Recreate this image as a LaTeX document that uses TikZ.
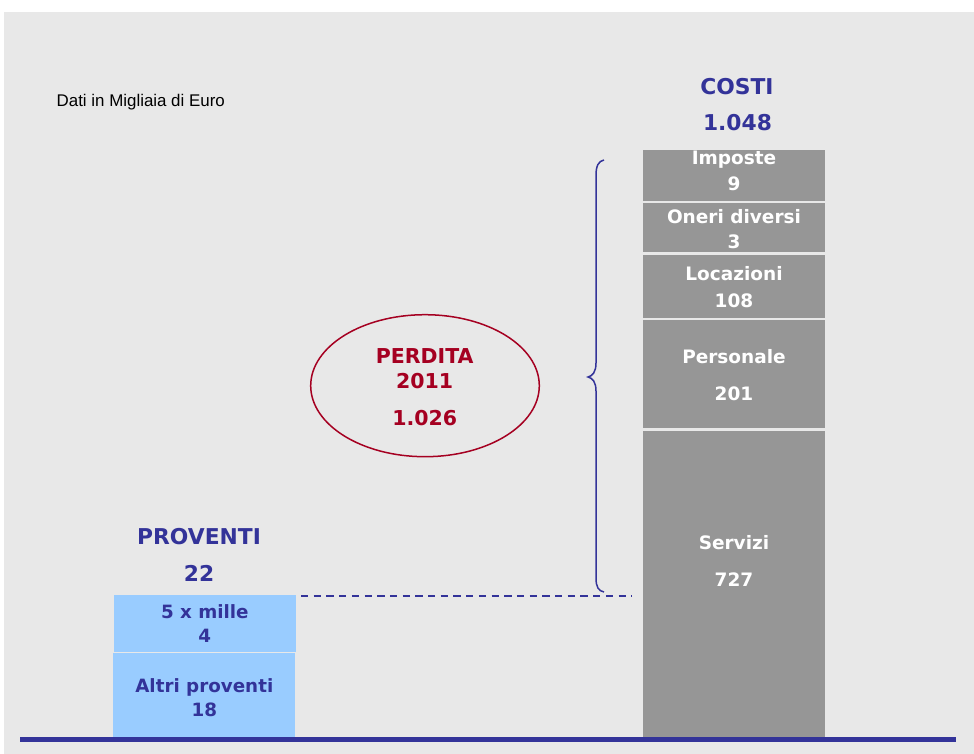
\documentclass[tikz,border=0pt]{standalone}
\usepackage{fontspec}
\setmainfont{DejaVu Sans}
\newfontfamily\arialfont{Liberation Sans}
\definecolor{bgc}{RGB}{232,232,232}
\definecolor{blu}{RGB}{51,51,153}
\definecolor{costc}{RGB}{150,150,150}
\definecolor{provc}{RGB}{153,204,255}
\definecolor{redc}{RGB}{165,0,33}
\tikzset{
  costbox/.style={fill=costc, draw=none, minimum width=182pt, anchor=north west, inner sep=0},
  provbox/.style={fill=provc, draw=none, anchor=north west, inner sep=0},
  headtxt/.style={font=\fontsize{21.8}{26}\selectfont\bfseries, text=blu, anchor=base, inner sep=0},
  redtxt/.style={font=\fontsize{20.5}{24}\selectfont\bfseries, text=redc, anchor=base, inner sep=0},
  costtxt/.style={font=\fontsize{18.5}{22}\selectfont\bfseries, text=white, anchor=base, inner sep=0},
  provtxt/.style={font=\fontsize{18.3}{22}\selectfont\bfseries, text=blu, anchor=base, inner sep=0},
}
\begin{document}
\begin{tikzpicture}[x=1pt,y=-1pt]
\useasboundingbox (0,0) rectangle (974,754);
\fill[bgc] (4,12) rectangle (974,754);

% title
\node[font=\arialfont\fontsize{16.9}{20}\selectfont, anchor=base west, inner sep=0] (dati) at (56.5,106.5) {Dati in Migliaia di Euro};

% cost boxes
\node[costbox, minimum height=51pt] (imp) at (643,150) {};
\node[costbox, minimum height=48.8pt] (one) at (643,202.7) {};
\node[costbox, minimum height=63pt] (loc) at (643,254.5) {};
\node[costbox, minimum height=108pt] (per) at (643,320) {};
\node[costbox, minimum height=306pt] (ser) at (643,431) {};

% proventi boxes
\node[provbox, minimum width=181.7pt, minimum height=57.4pt] (mil) at (114,594.3) {};
\node[provbox, minimum width=182pt, minimum height=86pt] (alt) at (113,652.7) {};

% headers
\node[headtxt] (costi) at (737,95) {COSTI};
\node[headtxt] (costv) at (737.5,131) {1.048};
\node[headtxt] (prov) at (199,544) {PROVENTI};
\node[headtxt] (provv) at (199,581) {22};

% cost labels
\node[costtxt] (impa) at (734,165) {Imposte};
\node[costtxt] (impb) at (734,190) {9};
\node[costtxt] (onea) at (734,223.3) {Oneri diversi};
\node[costtxt] (oneb) at (734,248.3) {3};
\node[costtxt] (loca) at (734,280) {Locazioni};
\node[costtxt] (locb) at (734,307.3) {108};
\node[costtxt] (pera) at (734,363.3) {Personale};
\node[costtxt] (perb) at (734,400) {201};
\node[costtxt] (sera) at (734,549.3) {Servizi};
\node[costtxt] (serb) at (734,586) {727};

% proventi labels
\node[provtxt] (mila) at (204.8,618.3) {5 x mille};
\node[provtxt] (milb) at (204.8,642.7) {4};
\node[provtxt] (alta) at (204.3,692.7) {Altri proventi};
\node[provtxt] (altb) at (204.3,716) {18};

% ellipse
\draw[redc, line width=1.5pt] (425,385.7) ellipse [x radius=114.3pt, y radius=71pt];
\node[redtxt] (pa) at (424.7,363.3) {PERDITA};
\node[redtxt] (pb) at (424.7,388.3) {2011};
\node[redtxt] (pc) at (424.7,425) {1.026};

% brace
\draw[blu, line width=1.5pt] (604,160) .. controls (598.5,161) and (596,166) .. (596,175)
  -- (596,363) .. controls (596,372) and (592.5,376) .. (588,377)
  .. controls (592.5,378) and (596,382) .. (596,391)
  -- (596,578) .. controls (596,587) and (598.5,591) .. (604,592);

% dashed level line
\coordinate (dl) at (301,596);
\coordinate (dr) at (632,596);
\draw[blu, line width=1.6pt, dash pattern=on 7.3pt off 5.4pt] (dl) -- (dr);

% base line
\coordinate (bl) at (20,739);
\coordinate (br) at (956,739);
\draw[blu, line width=5pt] (bl) -- (br);
\end{tikzpicture}
\end{document}
